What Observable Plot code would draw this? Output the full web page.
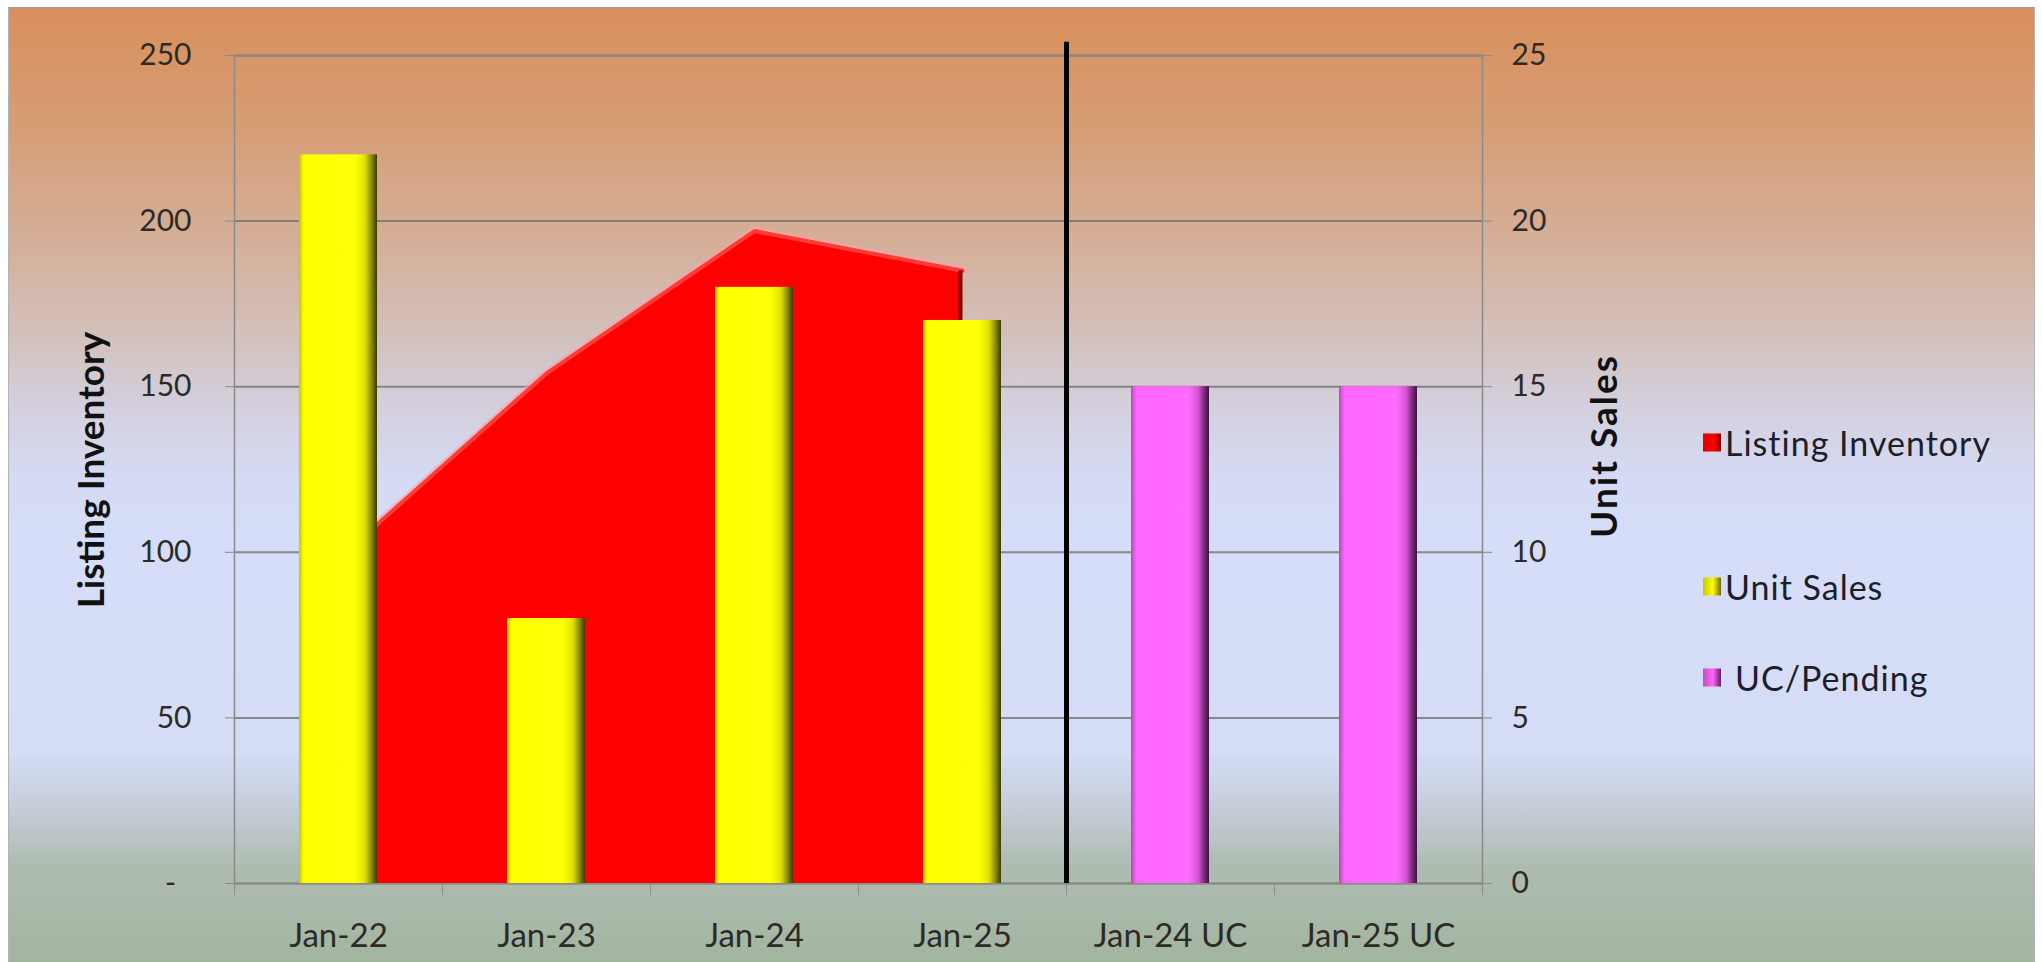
<!DOCTYPE html>
<html>
<head>
<meta charset="utf-8">
<script src="https://cdn.jsdelivr.net/npm/d3@7"></script>
<script src="https://cdn.jsdelivr.net/npm/@observablehq/plot@0.6"></script>
<style>
html,body{margin:0;padding:0;background:#fff;}
#wrap{position:absolute;left:8px;top:7px;width:2025px;height:955px;overflow:hidden;
  border-top:1px solid #9c9c9c;border-left:1px solid #b4b4b4;border-right:1px solid #b4b4b4;
  background:linear-gradient(to bottom,#d98f5c 0%,#d69d74 12%,#d4b09a 25%,#d3c2c0 35%,#d4d2e2 43%,#d5dbf5 50%,#d5ddf8 56%,#d4dcf6 78%,#c4ccd8 84%,#aebcb0 90%,#a2b59f 100%);}
#chart{position:absolute;left:0;top:0;}
.title{position:absolute;font:bold 37px Lato,sans-serif;color:#111;white-space:nowrap;transform:translate(-50%,-50%) rotate(-90deg);}
.leg{position:absolute;left:1694px;display:flex;align-items:center;font:34px Lato,sans-serif;color:#1e1e2a;letter-spacing:1px;white-space:nowrap;transform:translateY(-50%);}
.sw{display:inline-block;width:18px;height:18px;margin-right:4px;}
</style>
</head>
<body>
<svg width="0" height="0" style="position:absolute">
  <defs>
    <linearGradient id="gYellow" x1="0" x2="1" y1="0" y2="0">
      <stop offset="0" stop-color="#c4c400"/>
      <stop offset="0.06" stop-color="#ffff00"/>
      <stop offset="0.72" stop-color="#ffff08"/>
      <stop offset="0.84" stop-color="#e2e200"/>
      <stop offset="0.93" stop-color="#8a8a00"/>
      <stop offset="1" stop-color="#3a3a00"/>
    </linearGradient>
    <linearGradient id="gPink" x1="0" x2="1" y1="0" y2="0">
      <stop offset="0" stop-color="#b848b8"/>
      <stop offset="0.07" stop-color="#ff66ff"/>
      <stop offset="0.74" stop-color="#ff6aff"/>
      <stop offset="0.86" stop-color="#d652d6"/>
      <stop offset="0.94" stop-color="#7a2a7a"/>
      <stop offset="1" stop-color="#3e143e"/>
    </linearGradient>
  </defs>
</svg>
<div id="wrap">
  <div id="chart"></div>
  <div class="title" style="left:80px;top:462px;">Listing Inventory</div>
  <div class="title" style="left:1593px;top:438px;letter-spacing:2px;">Unit Sales</div>
  <div class="leg" style="top:434px;"><span class="sw" style="background:linear-gradient(to right,#e00000,#ff0000 60%,#8a0000)"></span>Listing Inventory</div>
  <div class="leg" style="top:578px;"><span class="sw" style="background:linear-gradient(to right,#c8c800,#ffff00 55%,#6a6a00)"></span>Unit Sales</div>
  <div class="leg" style="top:669px;"><span class="sw" style="background:linear-gradient(to right,#c050c0,#ff66ff 55%,#602060);margin-right:14px"></span>UC/Pending</div>
</div>
<script>
// ---- data ----
const categories = ["Jan-22", "Jan-23", "Jan-24", "Jan-25", "Jan-24 UC", "Jan-25 UC"];
const inventoryCats = ["Jan-22", "Jan-23", "Jan-24", "Jan-25"];
const inventoryValues = [98, 154, 197, 185];
const salesCats = ["Jan-22", "Jan-23", "Jan-24", "Jan-25"];
const salesValues = [22, 8, 18, 17];
const pendingCats = ["Jan-24 UC", "Jan-25 UC"];
const pendingValues = [15, 15];
const leftTicks = [0, 50, 100, 150, 200, 250];
const rightTicks = [0, 5, 10, 15, 20, 25];
const dividerCat = "Jan-24 UC";
const dividerTop = 254;

// ---- layout ----
const W = 2025, H = 954, mL = 225, mR = 552, mT = 47, mB = 79;
const step = (W - mL - mR) / categories.length;
const k = leftTicks[leftTicks.length - 1] / rightTicks[rightTicks.length - 1];

const inv = inventoryCats.map((c, i) => ({cat: c, v: inventoryValues[i]}));
const sales = salesCats.map((c, i) => ({cat: c, v: salesValues[i] * k}));
const pend = pendingCats.map((c, i) => ({cat: c, v: pendingValues[i] * k}));
const lastInv = [inv[inv.length - 1]];

const axisGrey = "#8a8a8a";
const textCol = "#2e2a28";

const chart = Plot.plot({
  width: W, height: H,
  marginLeft: mL, marginRight: mR, marginTop: mT, marginBottom: mB,
  style: {background: "transparent", fontFamily: "Lato, sans-serif", fontSize: "33px", overflow: "visible"},
  x: {type: "band", domain: categories, paddingInner: 0.625, paddingOuter: 0.3125, label: null},
  y: {domain: [0, 250], label: null},
  marks: [
    Plot.gridY({ticks: leftTicks, stroke: "#777", strokeOpacity: 0.85, strokeWidth: 2}),
    Plot.frame({stroke: axisGrey, strokeWidth: 1.5}),
    Plot.axisY({anchor: "left", ticks: leftTicks, tickSize: 9, tickPadding: 34, label: null, fontSize: 30,
      tickFormat: d => d === 0 ? "-\u00a0\u00a0" : d, stroke: axisGrey, fill: textCol}),
    Plot.axisY({anchor: "right", ticks: leftTicks, tickSize: 9, tickPadding: 20, label: null, fontSize: 30,
      tickFormat: d => d / k, stroke: axisGrey, fill: textCol}),
    Plot.axisX({ticks: categories, tickSize: 0, tickPadding: 40, label: null, fill: textCol, fontSize: 33}),
    Plot.axisX({ticks: categories, tickSize: 12, tickFormat: () => "", label: null, dx: -step / 2, stroke: axisGrey}),
    Plot.axisX({ticks: [categories[categories.length - 1]], tickSize: 12, tickFormat: () => "", label: null, dx: step / 2, stroke: axisGrey}),
    Plot.lineY(inv, {x: "cat", y: "v", stroke: "#ff9db0", strokeWidth: 9, strokeOpacity: 0.55}),
    Plot.areaY(inv, {x: "cat", y: "v", fill: "#ff0000"}),
    Plot.lineY(inv, {x: "cat", y: "v", stroke: "#ff3c34", strokeWidth: 4}),
    Plot.ruleX(lastInv, {x: "cat", y1: 0, y2: "v", stroke: "#8c0000", strokeWidth: 4, dx: -2}),
    Plot.barY(sales, {x: "cat", y: "v", fill: "url(#gYellow)"}),
    Plot.barY(pend, {x: "cat", y: "v", fill: "url(#gPink)"}),
    Plot.ruleX([{cat: dividerCat, top: dividerTop}], {x: "cat", y1: 0, y2: "top", dx: -step / 2, stroke: "#000", strokeWidth: 5})
  ]
});
document.getElementById("chart").appendChild(chart);
</script>
</body>
</html>
